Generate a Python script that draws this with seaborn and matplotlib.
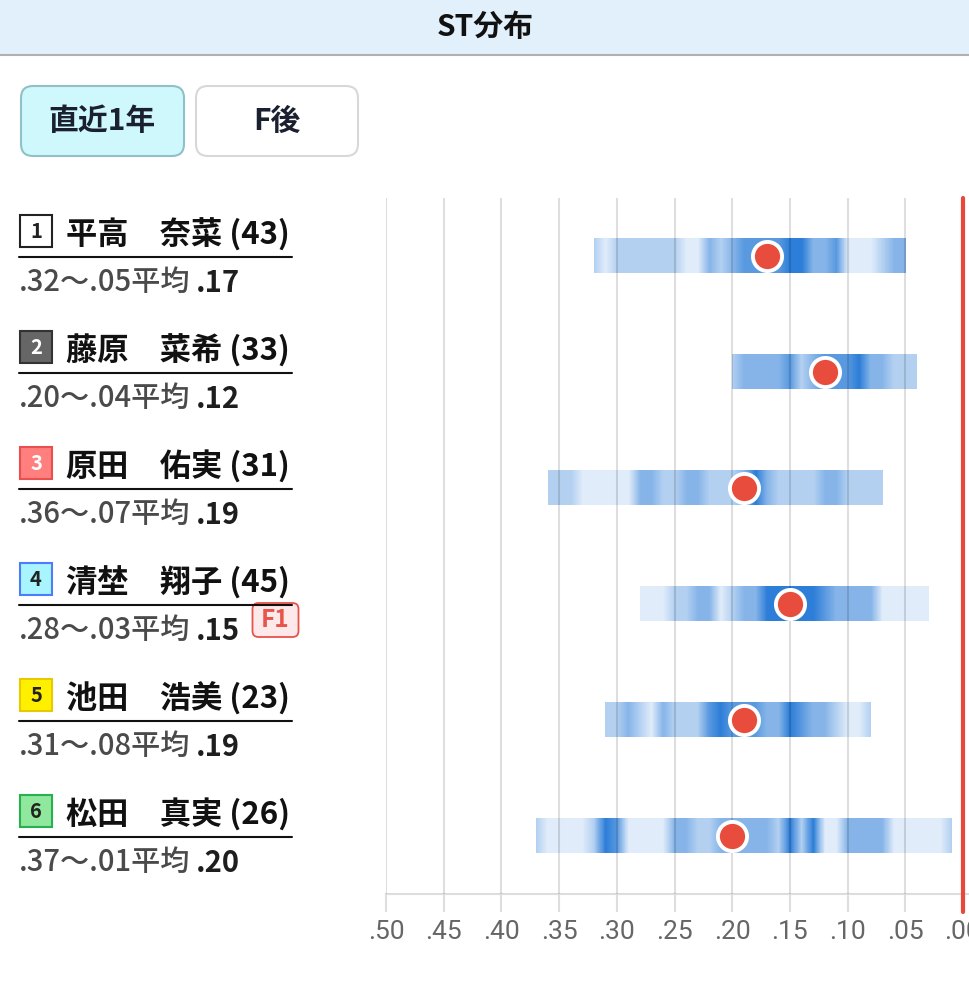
import numpy as np
import matplotlib
matplotlib.use('Agg')
import matplotlib.pyplot as plt
from matplotlib.patches import Rectangle, FancyBboxPatch
import seaborn as sns

# racers, lane 1..6
boat_no = [1, 2, 3, 4, 5, 6]
names = ['平高　奈菜', '藤原　菜希', '原田　佑実', '清埜　翔子', '池田　浩美', '松田　真実']
starts = [43, 33, 31, 45, 23, 26]
st_slow = [0.32, 0.20, 0.36, 0.28, 0.31, 0.37]
st_fast = [0.05, 0.04, 0.07, 0.03, 0.08, 0.01]
st_avg = [0.17, 0.12, 0.19, 0.15, 0.19, 0.20]
flying = ['', '', '', 'F1', '', '']

# start density per 0.01, from the slowest ST to the fastest
dens_1 = [1, 0, 1, 1, 1, 1, 1, 1, 0, 0, 2, 1, 2, 3, 3, 3, 3, 4, 4, 2, 2, 3, 0, 0, 0, 1, 2, 2]
dens_2 = [1, 2, 2, 2, 2, 3, 1, 2, 3, 3, 3, 4, 2, 2, 1, 1, 1]
dens_3 = [1, 1, 1, 0, 0, 0, 0, 0, 2, 2, 1, 1, 2, 2, 1, 1, 1, 2, 4, 2, 1, 1, 1, 1, 2, 2, 1, 1, 1, 1]
dens_4 = [0, 0, 0, 1, 1, 2, 2, 0, 1, 2, 2, 4, 4, 4, 4, 4, 3, 2, 2, 2, 2, 0, 0, 0, 0, 0]
dens_5 = [1, 1, 2, 1, 0, 2, 1, 1, 1, 3, 4, 3, 3, 3, 2, 2, 4, 3, 2, 2, 1, 0, 0, 1]
dens_6 = [1, 0, 0, 0, 0, 1, 4, 3, 0, 0, 0, 0, 2, 2, 1, 1, 2, 2, 2, 2, 2, 1, 4, 1, 4, 0, 0,
          2, 2, 2, 2, 0, 0, 0, 0, 0, 1]
densities = [dens_1, dens_2, dens_3, dens_4, dens_5, dens_6]

x_ticks = [0.50, 0.45, 0.40, 0.35, 0.30, 0.25, 0.20, 0.15, 0.10, 0.05, 0.00]

# lane box styles: face, edge, number colour
lane_styles = [('#ffffff', '#222222', '#222222'),
               ('#666666', '#333333', '#ffffff'),
               ('#ff7f7f', '#e85050', '#ffffff'),
               ('#a8f4ff', '#4d7dff', '#222222'),
               ('#fff000', '#e8c800', '#222222'),
               ('#8fe89e', '#28b050', '#222222')]

sns.set_theme(style='white')
plt.rcParams['font.family'] = ['Noto Sans CJK JP', 'DejaVu Sans']

W, H = 970, 981
fig = plt.figure(figsize=(W / 100, H / 100), dpi=100)

# background layer in pixel coordinates
bg = fig.add_axes([0, 0, 1, 1])
bg.set_xlim(0, W)
bg.set_ylim(H, 0)
bg.axis('off')

bg.add_patch(Rectangle((0, 0), W, 54, fc='#e1f0fb', ec='none'))
bg.plot([0, W], [55, 55], color='#b0b0b0', lw=1.5)
bg.text(W / 2, 27, 'ST分布', ha='center', va='center', fontsize=21.5, fontweight='bold', color='#111111')

# period buttons
bg.add_patch(FancyBboxPatch((21, 86), 163, 70, boxstyle='round,pad=0,rounding_size=12',
                            fc='#cff8fc', ec='#90c0c8', lw=1.5))
bg.add_patch(FancyBboxPatch((196, 86), 162, 70, boxstyle='round,pad=0,rounding_size=12',
                            fc='#ffffff', ec='#d8d8d8', lw=1.5))
bg.text(102, 121, '直近1年', ha='center', va='center', fontsize=21.5, fontweight='bold', color='#1a2030')
bg.text(277, 121, 'F後', ha='center', va='center', fontsize=21.5, fontweight='bold', color='#1a2030')

# racer labels
row_h = 116
avg_texts = []
for i in range(len(names)):
    off = row_h * i
    fc, ec, tc = lane_styles[i]
    bg.add_patch(Rectangle((20, 215 + off), 32, 32, fc=fc, ec=ec, lw=1.5))
    bg.text(36, 231 + off, str(boat_no[i]), ha='center', va='center', fontsize=14.5,
            fontweight='bold', color=tc)
    bg.text(66, 245 + off, f'{names[i]} ({starts[i]})', ha='left', va='baseline',
            fontsize=22.5, fontweight='bold', color='#111111')
    bg.plot([19, 292], [257 + off, 257 + off], color='#111111', lw=1.5)
    rng = bg.text(19, 291 + off, f'{st_slow[i]:.2f}'[1:] + '～' + f'{st_fast[i]:.2f}'[1:] + '平均',
                  ha='left', va='baseline', fontsize=21, fontweight='medium', color='#4a4a4a')
    avg = bg.annotate(f'{st_avg[i]:.2f}'[1:], xy=(1, 0), xycoords=rng, xytext=(5, 0),
                      textcoords='offset pixels', ha='left', va='bottom',
                      fontsize=21, fontweight='bold', color='#1e1e1e')
    avg_texts.append(avg)

# ST distribution chart
ax = fig.add_axes([386 / W, (H - 894) / H, (W - 386) / W, (894 - 198) / H])
ax.set_facecolor('none')
cmap = sns.blend_palette(['#e0ecfa', '#2d7ed8'], as_cmap=True)
half = 0.147
for i, dens in enumerate(densities):
    bins = np.round(np.arange(len(dens)) * -0.01 + st_slow[i], 2)
    xs = np.linspace(st_slow[i], st_fast[i], 800)
    vals = np.interp(xs[::-1], bins[::-1], np.array(dens, dtype=float)[::-1])[::-1]
    ax.imshow(vals[None, :], extent=(st_slow[i], st_fast[i], i + half, i - half),
              cmap=cmap, vmin=0, vmax=4, aspect='auto', interpolation='nearest', zorder=1)

sns.scatterplot(x=st_avg, y=list(range(len(names))), ax=ax, s=440, color='#e84c3d',
                edgecolor='white', linewidth=2.8, legend=False, zorder=5)

ax.set_xlim(0.5, 0.5 - (W - 386) / 1154)
ax.set_ylim(len(names) - 0.5, -0.5)
ax.set_xticks(x_ticks)
ax.set_xticklabels([f'{t:.2f}'[1:] for t in x_ticks], fontfamily='Roboto', fontsize=19, color='#666666')
ax.set_yticks([])
ax.grid(axis='x', color='black', alpha=0.13, lw=1.5, zorder=2)
ax.set_axisbelow(False)
ax.tick_params(axis='x', direction='out', length=13, width=1.5, color='#dedede', pad=6, bottom=True)
for side in ['top', 'left', 'right']:
    ax.spines[side].set_visible(False)
ax.spines['bottom'].set_color('#dddddd')
ax.spines['bottom'].set_linewidth(1.5)
ax.axvline(0, ymin=-18 / 696, ymax=1, color='#e8483a', lw=3, clip_on=False, zorder=6)

# flying badges placed after the average text
fig.canvas.draw()
for i, flag in enumerate(flying):
    if not flag:
        continue
    bb = avg_texts[i].get_window_extent()
    y0 = 291 + row_h * i - 36
    bg.add_patch(FancyBboxPatch((bb.x1 + 13, y0), 46, 34, boxstyle='round,pad=0,rounding_size=6',
                                fc='#fde9e9', ec='#e8534a', lw=1.3))
    bg.text(bb.x1 + 13 + 23, y0 + 17, flag, ha='center', va='center', fontsize=17.5,
            fontweight='bold', color='#e8534a')

fig.savefig('out.png', dpi=100)
